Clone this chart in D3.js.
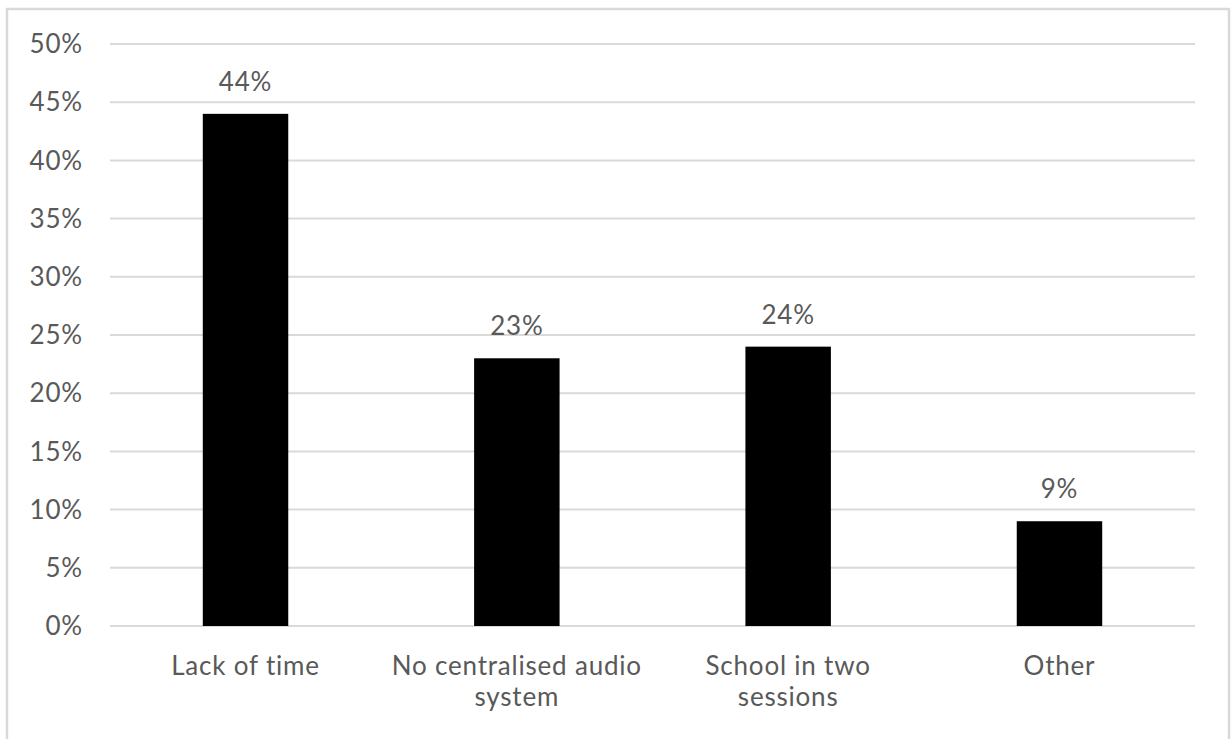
<!DOCTYPE html>
<html>
<head>
<meta charset="utf-8">
<script src="https://cdn.jsdelivr.net/npm/d3@7"></script>
<style>
  body { margin: 0; background: #fff; }
  text { font-family: Lato, "Open Sans", sans-serif; fill: #595959; letter-spacing: 0.8px; }
</style>
</head>
<body>
<div id="container"></div>
<script>
// chart data
const categories = ["Lack of time", "No centralised audio system", "School in two sessions", "Other"];
const values = [44, 23, 24, 9];
const yTicks = [0, 5, 10, 15, 20, 25, 30, 35, 40, 45, 50];

const width = 1231, height = 739,
    margin = { top: 44, right: 36, bottom: 113, left: 110 };
const fontSize = "26px";

const svg = d3.select("#container")
    .append("svg")
    .attr("width", width)
    .attr("height", height)

// outer chart border
svg.append("rect")
    .attr("x", 7).attr("y", 9)
    .attr("width", width - 9).attr("height", height + 10)
    .attr("fill", "none")
    .attr("stroke", "#d9d9d9")
    .attr("stroke-width", 2.5)

const xScale = d3.scaleBand()
    .domain(categories)
    .range([margin.left, width - margin.right])
    .paddingInner(0.685)
    .paddingOuter(0.342)

const yScale = d3.scaleLinear()
    .domain([0, 50])
    .range([height - margin.bottom, margin.top])

// gridlines
svg.append("g")
    .selectAll("line")
    .data(yTicks)
    .join("line")
    .attr("x1", margin.left)
    .attr("x2", width - margin.right)
    .attr("y1", d => yScale(d))
    .attr("y2", d => yScale(d))
    .attr("stroke", "#d9d9d9")
    .attr("stroke-width", 2)

// y tick labels
svg.append("g")
    .selectAll("text")
    .data(yTicks)
    .join("text")
    .attr("x", 83)
    .attr("y", d => yScale(d))
    .attr("dy", "0.35em")
    .attr("text-anchor", "end")
    .style("font-size", fontSize)
    .text(d => d + "%")

// bars
svg.append("g")
    .selectAll("rect")
    .data(values)
    .join("rect")
    .attr("x", (d, i) => xScale(categories[i]))
    .attr("y", d => yScale(d))
    .attr("width", xScale.bandwidth())
    .attr("height", d => yScale(0) - yScale(d))
    .attr("fill", "#000")

// value labels
svg.append("g")
    .selectAll("text")
    .data(values)
    .join("text")
    .attr("x", (d, i) => xScale(categories[i]) + xScale.bandwidth() / 2)
    .attr("y", d => yScale(d) - 23)
    .attr("text-anchor", "middle")
    .style("font-size", fontSize)
    .text(d => d + "%")

// category labels, wrapped like the original
const wrapped = [["Lack of time"], ["No centralised audio", "system"], ["School in two", "sessions"], ["Other"]];
const catG = svg.append("g")
    .selectAll("text")
    .data(categories)
    .join("text")
    .attr("text-anchor", "middle")
    .style("font-size", fontSize)
    .attr("x", d => xScale(d) + xScale.bandwidth() / 2)
    .attr("y", 675)
catG.selectAll("tspan")
    .data((d, i) => wrapped[i])
    .join("tspan")
    .attr("x", function() { return d3.select(this.parentNode).attr("x") })
    .attr("dy", (d, i) => i === 0 ? 0 : 31)
    .text(d => d)
</script>
</body>
</html>
